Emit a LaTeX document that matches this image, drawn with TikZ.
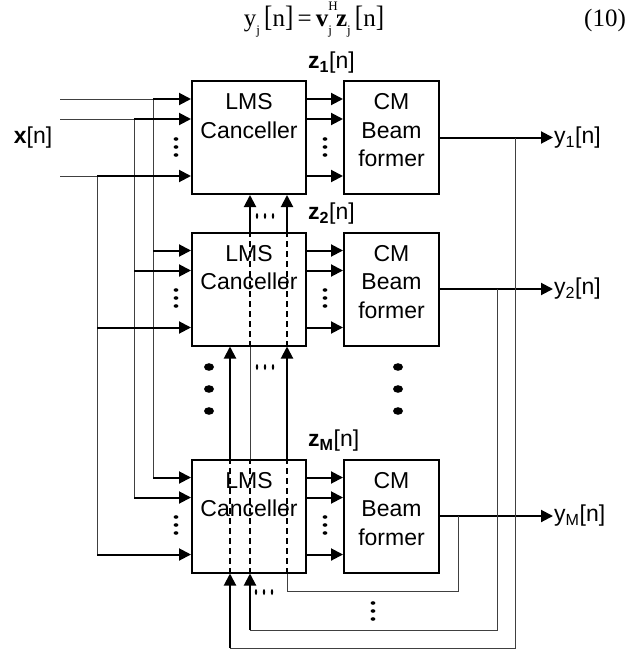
\documentclass[tikz,border=0pt]{standalone}
\usepackage{fontspec}
\usepackage{graphicx}
\setmainfont{Liberation Sans}
\newfontfamily\eqfont{Liberation Serif}
\newcommand{\eqsub}[1]{\raisebox{-0.32em}{\fontsize{13}{13}\selectfont #1}}
\newcommand{\eqsup}[1]{\raisebox{0.62em}{\fontsize{13}{13}\selectfont #1}}
\newcommand{\tallbr}[1]{\scalebox{1}[1.18]{#1}}
\usetikzlibrary{arrows.meta}

\begin{document}
\begin{tikzpicture}[x=1pt, y=-1pt,
		font = \fontsize{23}{28.5}\selectfont,
		lmsbox/.style = {rectangle, draw, line width=2pt, minimum width=114, minimum height=113, align=center, text depth=14.5pt, inner sep=0pt},
		cmbox/.style  = {rectangle, draw, line width=2pt, minimum width=95, minimum height=113, align=center, text depth=14.5pt, inner sep=0pt},
		sig/.style = {-{Triangle[length=12pt, width=12pt]}, line width=2pt},
		w/.style   = {line width=1pt, black!75},
		dsh/.style = {line width=1.8pt, dash pattern=on 6pt off 4pt},
		lbl/.style = {anchor=west, inner sep=1pt},
		sdots/.pic = {\fill (0,-8) ellipse [x radius=2.4, y radius=1.8];
			\fill (0,0) ellipse [x radius=2.4, y radius=1.8];
			\fill (0,8) ellipse [x radius=2.4, y radius=1.8];},
		hdots/.pic = {\fill (-8,0) ellipse [x radius=1.2, y radius=3];
			\fill (0,0) ellipse [x radius=1.2, y radius=3];
			\fill (8,0) ellipse [x radius=1.2, y radius=3];},
		bdots/.pic = {\fill (0,-22) ellipse [x radius=5, y radius=3.8];
			\fill (0,0) ellipse [x radius=5, y radius=3.8];
			\fill (0,22) ellipse [x radius=5, y radius=3.8];}
		]
		\useasboundingbox (0,0) rectangle (629,653);

		% equation
		\node[anchor=base]	(eq)	at	(314,26)	{\eqfont\fontsize{25}{30}\selectfont y\eqsub{j}\,\tallbr{[}n\tallbr{]}\,=\,\textbf{v}\rlap{\eqsup{H}}\eqsub{j}\,\textbf{z}\eqsub{j}\,\tallbr{[}n\tallbr{]}};
		\node[anchor=base]	(eqno)	at	(605,26)	{\eqfont\fontsize{25}{30}\selectfont (10)};

		% boxes
		\node[lmsbox]	(lms1)	at	(249,137.5)	{LMS\\Canceller\\~};
		\node[cmbox]	(cm1)	at	(391.5,137.5)	{CM\\Beam\\former};
		\node[lmsbox]	(lms2)	at	(249,289)	{LMS\\Canceller\\~};
		\node[cmbox]	(cm2)	at	(391.5,289)	{CM\\Beam\\former};
		\node[lmsbox]	(lmsM)	at	(249,516)	{LMS\\Canceller\\~};
		\node[cmbox]	(cmM)	at	(391.5,516)	{CM\\Beam\\former};

		% labels
		\node	(x)	at	(33,138)	{\textbf{x}[n]};
		\node[lbl]	(z1)	at	(307,63)	{\textbf{z\textsubscript{1}}[n]};
		\node[lbl]	(z2)	at	(307,214)	{\textbf{z\textsubscript{2}}[n]};
		\node[lbl]	(zM)	at	(307,441)	{\textbf{z\textsubscript{M}}[n]};
		\node[lbl]	(y1)	at	(553,137.5)	{y\textsubscript{1}[n]};
		\node[lbl]	(y2)	at	(553,289)	{y\textsubscript{2}[n]};
		\node[lbl]	(yM)	at	(553,516)	{y\textsubscript{M}[n]};

		% input and output ports
		\coordinate	(l1a)	at	([yshift=38.5]lms1.west);
		\coordinate	(l1b)	at	([yshift=18.5]lms1.west);
		\coordinate	(l1c)	at	([yshift=-38.5]lms1.west);
		\coordinate	(l2a)	at	([yshift=38.5]lms2.west);
		\coordinate	(l2b)	at	([yshift=18.5]lms2.west);
		\coordinate	(l2c)	at	([yshift=-38.5]lms2.west);
		\coordinate	(lMa)	at	([yshift=38.5]lmsM.west);
		\coordinate	(lMb)	at	([yshift=18.5]lmsM.west);
		\coordinate	(lMc)	at	([yshift=-38.5]lmsM.west);

		% x[n] bus
		\coordinate	(xa)	at	(60,99);
		\coordinate	(xb)	at	(60,119);
		\coordinate	(xc)	at	(60,176);
		\coordinate	(ba)	at	(153,99);
		\coordinate	(bb)	at	(134,119);
		\coordinate	(bc)	at	(97,176);
		\draw[w]	(xa)	--	(ba);
		\draw[w]	(xb)	--	(bb);
		\draw[w]	(xc)	--	(bc);
		\draw[w]	(ba)	--	(ba |- lMa);
		\draw[w]	(bb)	--	(bb |- lMb);
		\draw[w]	(bc)	--	(bc |- lMc);

		\draw[sig]	(ba)	--	(l1a);
		\draw[sig]	(bb)	--	(l1b);
		\draw[sig]	(bc)	--	(l1c);
		\draw[sig]	(ba |- l2a)	--	(l2a);
		\draw[sig]	(bb |- l2b)	--	(l2b);
		\draw[sig]	(bc |- l2c)	--	(l2c);
		\draw[sig]	(ba |- lMa)	--	(lMa);
		\draw[sig]	(bb |- lMb)	--	(lMb);
		\draw[sig]	(bc |- lMc)	--	(lMc);

		% z[n] between the boxes
		\draw[sig]	(l1a -| lms1.east)	--	(l1a -| cm1.west);
		\draw[sig]	(l1b -| lms1.east)	--	(l1b -| cm1.west);
		\draw[sig]	(l1c -| lms1.east)	--	(l1c -| cm1.west);
		\draw[sig]	(l2a -| lms2.east)	--	(l2a -| cm2.west);
		\draw[sig]	(l2b -| lms2.east)	--	(l2b -| cm2.west);
		\draw[sig]	(l2c -| lms2.east)	--	(l2c -| cm2.west);
		\draw[sig]	(lMa -| lmsM.east)	--	(lMa -| cmM.west);
		\draw[sig]	(lMb -| lmsM.east)	--	(lMb -| cmM.west);
		\draw[sig]	(lMc -| lmsM.east)	--	(lMc -| cmM.west);

		% outputs
		\draw[sig]	(cm1.east)	--	(cm1.east -| y1.west);
		\draw[sig]	(cm2.east)	--	(cm2.east -| y2.west);
		\draw[sig]	(cmM.east)	--	(cmM.east -| yM.west);

		% feedback of y1
		\coordinate	(r1)	at	(515,648);
		\coordinate	(k1)	at	(230,648);
		\draw[w]	(r1 |- cm1.east)	--	(r1)	--	(k1);
		\draw[sig]	(k1)	--	(k1 |- lmsM.south);
		\draw[dsh]	(k1 |- lmsM.south)	--	(k1 |- lmsM.north);
		\draw[sig]	(k1 |- lmsM.north)	--	(k1 |- lms2.south);

		% feedback of y2
		\coordinate	(r2)	at	(497,630);
		\coordinate	(k2)	at	(250,630);
		\draw[w]	(r2 |- cm2.east)	--	(r2)	--	(k2);
		\draw[sig]	(k2)	--	(k2 |- lmsM.south);
		\draw[dsh]	(k2 |- lmsM.south)	--	(k2 |- lmsM.north);
		\draw[w]	(k2 |- lmsM.north)	--	(k2 |- lms2.south);
		\draw[dsh]	(k2 |- lms2.south)	--	(k2 |- lms2.north);
		\draw[sig]	(k2 |- lms2.north)	--	(k2 |- lms1.south);

		% feedback of yM
		\coordinate	(rM)	at	(458,591);
		\coordinate	(kM)	at	(287,591);
		\draw[w]	(rM |- cmM.east)	--	(rM)	--	(kM)	--	(kM |- lmsM.south);
		\draw[dsh]	(kM |- lmsM.south)	--	(kM |- lmsM.north);
		\draw[sig]	(kM |- lmsM.north)	--	(kM |- lms2.south);
		\draw[dsh]	(kM |- lms2.south)	--	(kM |- lms2.north);
		\draw[sig]	(kM |- lms2.north)	--	(kM |- lms1.south);

		% dots
		\pic at (176,147) {sdots};
		\pic at (325,147) {sdots};
		\pic at (176,298) {sdots};
		\pic at (325,298) {sdots};
		\pic at (176,525) {sdots};
		\pic at (325,525) {sdots};
		\pic at (373,611) {sdots};
		\pic at (265,216) {hdots};
		\pic at (265,367) {hdots};
		\pic at (264,592) {hdots};
		\pic at (209,389) {bdots};
		\pic at (398,389) {bdots};
\end{tikzpicture}
\end{document}
